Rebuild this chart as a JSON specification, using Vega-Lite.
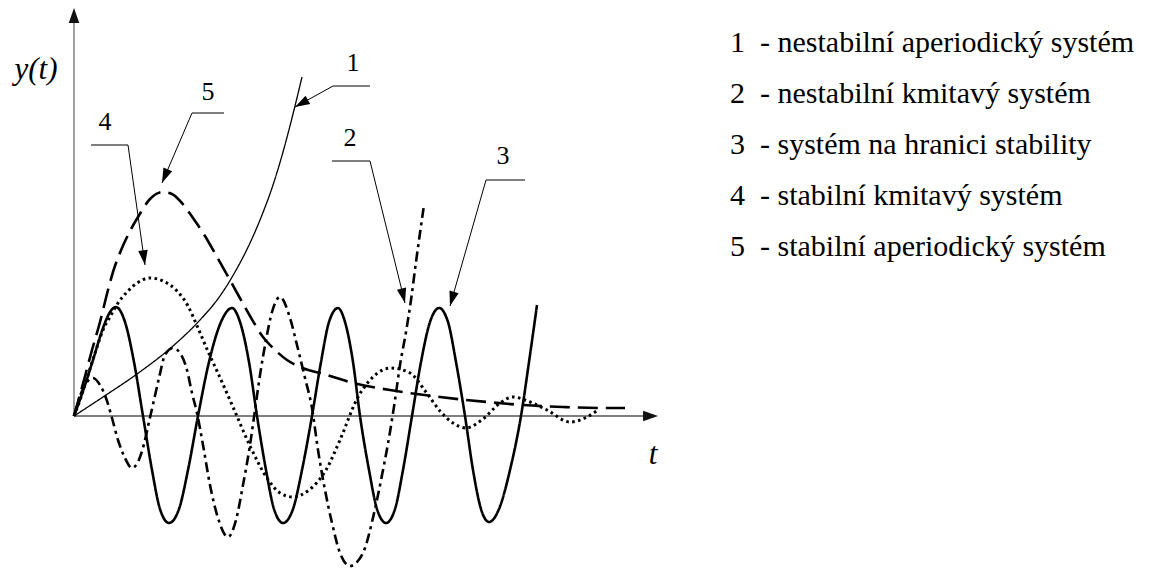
{
  "$schema": "https://vega.github.io/schema/vega-lite/v6.json",
  "width": 1152,
  "height": 572,
  "padding": 0,
  "autosize": {"type": "none"},
  "background": "white",
  "config": {
    "view": {"stroke": null},
    "font": "Liberation Serif",
    "legend": {"labelFont": "Liberation Serif"},
    "text": {"font": "Liberation Serif"}
  },
  "datasets": {
    "systems": [
      {"curve": 1, "name": "1\u00a0\u00a0-\u00a0nestabilní aperiodický systém"},
      {"curve": 2, "name": "2\u00a0\u00a0-\u00a0nestabilní kmitavý systém"},
      {"curve": 3, "name": "3\u00a0\u00a0-\u00a0systém na hranici stability"},
      {"curve": 4, "name": "4\u00a0\u00a0-\u00a0stabilní kmitavý systém"},
      {"curve": 5, "name": "5\u00a0\u00a0-\u00a0stabilní aperiodický systém"}
    ],
    "curves": [
      {"curve": 1, "t": 0, "y": 0}, {"curve": 1, "t": 2.9, "y": 1.9}, {"curve": 1, "t": 6.3, "y": 4.2},
      {"curve": 1, "t": 9.9, "y": 7.0}, {"curve": 1, "t": 12.6, "y": 9.6}, {"curve": 1, "t": 14.6, "y": 12.0},
      {"curve": 1, "t": 16.1, "y": 14.4}, {"curve": 1, "t": 17.6, "y": 17.3}, {"curve": 1, "t": 18.8, "y": 20.1},
      {"curve": 1, "t": 19.9, "y": 23.1}, {"curve": 1, "t": 20.9, "y": 26.4}, {"curve": 1, "t": 21.8, "y": 29.8},
      {"curve": 1, "t": 22.8, "y": 33.9},

      {"curve": 2, "t": 0, "y": 0}, {"curve": 2, "t": 0.6, "y": 2.0}, {"curve": 2, "t": 1.3, "y": 3.4},
      {"curve": 2, "t": 1.9, "y": 3.8}, {"curve": 2, "t": 2.6, "y": 3.1}, {"curve": 2, "t": 3.2, "y": 1.8},
      {"curve": 2, "t": 3.8, "y": -0.2}, {"curve": 2, "t": 4.4, "y": -2.4}, {"curve": 2, "t": 5.1, "y": -4.2},
      {"curve": 2, "t": 5.8, "y": -5.2}, {"curve": 2, "t": 6.4, "y": -4.6}, {"curve": 2, "t": 7.0, "y": -2.8},
      {"curve": 2, "t": 7.5, "y": -0.6}, {"curve": 2, "t": 8.0, "y": 1.6}, {"curve": 2, "t": 8.5, "y": 3.8},
      {"curve": 2, "t": 9.1, "y": 6.1}, {"curve": 2, "t": 9.9, "y": 6.8}, {"curve": 2, "t": 10.6, "y": 6.3},
      {"curve": 2, "t": 11.3, "y": 4.6}, {"curve": 2, "t": 11.8, "y": 2.3}, {"curve": 2, "t": 12.3, "y": 0.3},
      {"curve": 2, "t": 12.9, "y": -2.9}, {"curve": 2, "t": 13.6, "y": -6.9}, {"curve": 2, "t": 14.4, "y": -10.2},
      {"curve": 2, "t": 15.4, "y": -12.1}, {"curve": 2, "t": 16.2, "y": -10.4}, {"curve": 2, "t": 16.9, "y": -6.9},
      {"curve": 2, "t": 17.6, "y": -2.9}, {"curve": 2, "t": 18.1, "y": 0.6}, {"curve": 2, "t": 18.6, "y": 4.1},
      {"curve": 2, "t": 19.2, "y": 7.6}, {"curve": 2, "t": 19.8, "y": 10.4}, {"curve": 2, "t": 20.6, "y": 11.9},
      {"curve": 2, "t": 21.6, "y": 9.8}, {"curve": 2, "t": 22.3, "y": 7.1}, {"curve": 2, "t": 23.1, "y": 3.8},
      {"curve": 2, "t": 23.8, "y": 0.8}, {"curve": 2, "t": 24.4, "y": -3.4}, {"curve": 2, "t": 25.1, "y": -7.4},
      {"curve": 2, "t": 25.8, "y": -10.7}, {"curve": 2, "t": 26.6, "y": -13.7}, {"curve": 2, "t": 27.6, "y": -15.0},
      {"curve": 2, "t": 28.3, "y": -14.6}, {"curve": 2, "t": 29.1, "y": -13.2}, {"curve": 2, "t": 29.8, "y": -10.6},
      {"curve": 2, "t": 30.4, "y": -7.9}, {"curve": 2, "t": 31.0, "y": -4.9}, {"curve": 2, "t": 31.6, "y": -1.6},
      {"curve": 2, "t": 32.1, "y": 1.6}, {"curve": 2, "t": 32.6, "y": 5.1}, {"curve": 2, "t": 33.2, "y": 8.4},
      {"curve": 2, "t": 33.7, "y": 11.6}, {"curve": 2, "t": 34.2, "y": 15.4}, {"curve": 2, "t": 34.6, "y": 18.3},
      {"curve": 2, "t": 35.0, "y": 21.1},

      {"curve": 3, "t": 0, "y": 0}, {"curve": 3, "t": 1.0, "y": 2.8}, {"curve": 3, "t": 1.9, "y": 5.6},
      {"curve": 3, "t": 2.9, "y": 8.8}, {"curve": 3, "t": 3.6, "y": 10.4}, {"curve": 3, "t": 4.2, "y": 10.9},
      {"curve": 3, "t": 5.1, "y": 9.4}, {"curve": 3, "t": 6.0, "y": 5.4}, {"curve": 3, "t": 6.9, "y": 0},
      {"curve": 3, "t": 7.8, "y": -5.4}, {"curve": 3, "t": 8.6, "y": -9.3}, {"curve": 3, "t": 9.5, "y": -10.7},
      {"curve": 3, "t": 10.5, "y": -9.3}, {"curve": 3, "t": 11.4, "y": -5.4}, {"curve": 3, "t": 12.4, "y": 0},
      {"curve": 3, "t": 13.5, "y": 5.4}, {"curve": 3, "t": 14.7, "y": 9.4}, {"curve": 3, "t": 15.8, "y": 10.8},
      {"curve": 3, "t": 16.6, "y": 9.4}, {"curve": 3, "t": 17.5, "y": 5.4}, {"curve": 3, "t": 18.3, "y": 0},
      {"curve": 3, "t": 19.2, "y": -5.4}, {"curve": 3, "t": 20.0, "y": -9.3}, {"curve": 3, "t": 20.9, "y": -10.7},
      {"curve": 3, "t": 21.9, "y": -9.3}, {"curve": 3, "t": 22.8, "y": -5.4}, {"curve": 3, "t": 23.8, "y": 0},
      {"curve": 3, "t": 24.7, "y": 5.4}, {"curve": 3, "t": 25.5, "y": 9.4}, {"curve": 3, "t": 26.4, "y": 10.8},
      {"curve": 3, "t": 27.1, "y": 9.4}, {"curve": 3, "t": 27.9, "y": 5.4}, {"curve": 3, "t": 28.6, "y": 0},
      {"curve": 3, "t": 29.5, "y": -5.4}, {"curve": 3, "t": 30.3, "y": -9.3}, {"curve": 3, "t": 31.2, "y": -10.7},
      {"curve": 3, "t": 32.1, "y": -9.3}, {"curve": 3, "t": 32.9, "y": -5.4}, {"curve": 3, "t": 33.8, "y": 0},
      {"curve": 3, "t": 34.7, "y": 5.4}, {"curve": 3, "t": 35.6, "y": 9.4}, {"curve": 3, "t": 36.5, "y": 10.8},
      {"curve": 3, "t": 37.4, "y": 9.4}, {"curve": 3, "t": 38.2, "y": 5.4}, {"curve": 3, "t": 39.1, "y": 0},
      {"curve": 3, "t": 39.9, "y": -5.4}, {"curve": 3, "t": 40.7, "y": -9.3}, {"curve": 3, "t": 41.5, "y": -10.6},
      {"curve": 3, "t": 42.5, "y": -9.3}, {"curve": 3, "t": 43.6, "y": -5.4}, {"curve": 3, "t": 44.7, "y": 0},
      {"curve": 3, "t": 45.5, "y": 5.4}, {"curve": 3, "t": 46.3, "y": 11.1},

      {"curve": 4, "t": 0, "y": 0}, {"curve": 4, "t": 0.6, "y": 1.6}, {"curve": 4, "t": 1.4, "y": 4.1},
      {"curve": 4, "t": 2.2, "y": 6.6}, {"curve": 4, "t": 2.9, "y": 8.6}, {"curve": 4, "t": 3.6, "y": 9.9},
      {"curve": 4, "t": 4.4, "y": 11.3}, {"curve": 4, "t": 5.3, "y": 12.4}, {"curve": 4, "t": 6.3, "y": 13.3},
      {"curve": 4, "t": 7.6, "y": 13.8}, {"curve": 4, "t": 8.9, "y": 13.5}, {"curve": 4, "t": 10.3, "y": 12.5},
      {"curve": 4, "t": 11.4, "y": 11.0}, {"curve": 4, "t": 12.4, "y": 8.8}, {"curve": 4, "t": 13.6, "y": 6.0},
      {"curve": 4, "t": 14.3, "y": 4.5}, {"curve": 4, "t": 15.9, "y": 0.9}, {"curve": 4, "t": 17.6, "y": -3.0},
      {"curve": 4, "t": 19.3, "y": -6.2}, {"curve": 4, "t": 20.6, "y": -7.7}, {"curve": 4, "t": 21.9, "y": -8.1},
      {"curve": 4, "t": 23.5, "y": -7.4}, {"curve": 4, "t": 25.2, "y": -5.4}, {"curve": 4, "t": 26.6, "y": -2.4},
      {"curve": 4, "t": 28.3, "y": 1.7}, {"curve": 4, "t": 29.9, "y": 3.9}, {"curve": 4, "t": 31.7, "y": 4.8},
      {"curve": 4, "t": 33.6, "y": 4.3}, {"curve": 4, "t": 35.2, "y": 2.4}, {"curve": 4, "t": 36.6, "y": 0.5},
      {"curve": 4, "t": 37.9, "y": -0.7}, {"curve": 4, "t": 39.2, "y": -1.2}, {"curve": 4, "t": 40.9, "y": -0.3},
      {"curve": 4, "t": 42.6, "y": 1.3}, {"curve": 4, "t": 43.9, "y": 1.9}, {"curve": 4, "t": 45.6, "y": 1.4},
      {"curve": 4, "t": 47.3, "y": 0.6}, {"curve": 4, "t": 49.6, "y": -0.6}, {"curve": 4, "t": 51.3, "y": -0.1},
      {"curve": 4, "t": 52.4, "y": 0.6},

      {"curve": 5, "t": 0, "y": 0}, {"curve": 5, "t": 1.0, "y": 3.6}, {"curve": 5, "t": 1.8, "y": 6.6},
      {"curve": 5, "t": 2.6, "y": 9.4}, {"curve": 5, "t": 3.4, "y": 12.6}, {"curve": 5, "t": 3.9, "y": 14.4},
      {"curve": 5, "t": 4.8, "y": 16.8}, {"curve": 5, "t": 5.6, "y": 18.5}, {"curve": 5, "t": 6.4, "y": 19.9},
      {"curve": 5, "t": 7.6, "y": 21.7}, {"curve": 5, "t": 8.9, "y": 22.4}, {"curve": 5, "t": 9.8, "y": 22.2},
      {"curve": 5, "t": 10.7, "y": 21.4}, {"curve": 5, "t": 11.9, "y": 19.8}, {"curve": 5, "t": 13.1, "y": 18.0},
      {"curve": 5, "t": 14.3, "y": 15.9}, {"curve": 5, "t": 15.6, "y": 13.6}, {"curve": 5, "t": 16.7, "y": 11.6},
      {"curve": 5, "t": 17.6, "y": 10.0}, {"curve": 5, "t": 18.9, "y": 7.9}, {"curve": 5, "t": 19.9, "y": 6.8},
      {"curve": 5, "t": 21.3, "y": 5.6}, {"curve": 5, "t": 22.6, "y": 4.9}, {"curve": 5, "t": 25.3, "y": 4.1},
      {"curve": 5, "t": 27.9, "y": 3.3}, {"curve": 5, "t": 31.6, "y": 2.6}, {"curve": 5, "t": 36.6, "y": 1.9},
      {"curve": 5, "t": 41.3, "y": 1.4}, {"curve": 5, "t": 44.9, "y": 1.1}, {"curve": 5, "t": 48.9, "y": 0.9},
      {"curve": 5, "t": 52.9, "y": 0.8}, {"curve": 5, "t": 55.1, "y": 0.8}
    ],
    "callouts": [
      {"label": "1", "labelT": 27.9, "labelY": 35.3, "barFrom": 25.9, "barTo": 29.6, "barY": 33.0, "elbowT": 25.9, "tipT": 22.1, "tipY": 30.9},
      {"label": "2", "labelT": 27.6, "labelY": 27.8, "barFrom": 25.8, "barTo": 29.6, "barY": 25.5, "elbowT": 29.6, "tipT": 33.1, "tipY": 11.3},
      {"label": "3", "labelT": 42.9, "labelY": 26.0, "barFrom": 41.2, "barTo": 45.1, "barY": 23.6, "elbowT": 41.2, "tipT": 37.6, "tipY": 11.0},
      {"label": "4", "labelT": 3.1, "labelY": 29.4, "barFrom": 1.7, "barTo": 5.4, "barY": 27.1, "elbowT": 5.4, "tipT": 7.1, "tipY": 15.1},
      {"label": "5", "labelT": 13.4, "labelY": 32.4, "barFrom": 11.8, "barTo": 15.0, "barY": 30.3, "elbowT": 11.8, "tipT": 8.8, "tipY": 23.3}
    ]
  },
  "layer": [
    {
      "description": "y axis line",
      "data": {"values": [{}]},
      "mark": {"type": "rule", "color": "#8a8a8a", "strokeWidth": 1.6},
      "encoding": {
        "x": {"datum": 0, "type": "quantitative", "scale": {"domain": [-7.4, 107.8], "nice": false, "zero": false}, "axis": null},
        "y": {"datum": 0, "type": "quantitative", "scale": {"domain": [-15.6, 41.6], "nice": false, "zero": false}, "axis": null},
        "y2": {"datum": 39.6}
      }
    },
    {
      "description": "t axis line",
      "data": {"values": [{}]},
      "mark": {"type": "rule", "color": "#555555", "strokeWidth": 1.6},
      "encoding": {
        "x": {"datum": 0, "type": "quantitative", "scale": {"domain": [-7.4, 107.8], "nice": false, "zero": false}, "axis": null},
        "x2": {"datum": 57.2},
        "y": {"datum": 0, "type": "quantitative", "scale": {"domain": [-15.6, 41.6], "nice": false, "zero": false}, "axis": null}
      }
    },
    {
      "description": "axis arrowheads",
      "data": {"values": [{"t": 0, "y": 40.8, "angle": 0}, {"t": 58.4, "y": 0, "angle": 90}]},
      "mark": {"type": "point", "shape": "M0,0L-0.6,1.7L0.6,1.7Z", "filled": true, "size": 310, "color": "#111111", "opacity": 1, "strokeWidth": 0},
      "encoding": {
        "x": {"field": "t", "type": "quantitative", "scale": {"domain": [-7.4, 107.8], "nice": false, "zero": false}, "axis": null},
        "y": {"field": "y", "type": "quantitative", "scale": {"domain": [-15.6, 41.6], "nice": false, "zero": false}, "axis": null},
        "angle": {"field": "angle", "type": "quantitative", "scale": null}
      }
    },
    {
      "description": "step responses of the five systems",
      "data": {"name": "curves"},
      "transform": [
        {"lookup": "curve", "from": {"data": {"name": "systems"}, "key": "curve", "fields": ["name"]}}
      ],
      "mark": {"type": "line", "interpolate": "monotone", "color": "#000000", "strokeCap": "butt", "strokeJoin": "round"},
      "encoding": {
        "x": {"field": "t", "type": "quantitative", "scale": {"domain": [-7.4, 107.8], "nice": false, "zero": false}, "axis": null},
        "y": {"field": "y", "type": "quantitative", "scale": {"domain": [-15.6, 41.6], "nice": false, "zero": false}, "axis": null},
        "strokeDash": {
          "field": "name",
          "type": "nominal",
          "scale": {
            "domain": [
              "1\u00a0\u00a0-\u00a0nestabilní aperiodický systém",
              "2\u00a0\u00a0-\u00a0nestabilní kmitavý systém",
              "3\u00a0\u00a0-\u00a0systém na hranici stability",
              "4\u00a0\u00a0-\u00a0stabilní kmitavý systém",
              "5\u00a0\u00a0-\u00a0stabilní aperiodický systém"
            ],
            "range": [[1, 0], [10, 4.5, 3, 4.5], [1, 0], [2.6, 3.4], [20, 8]]
          },
          "legend": {
            "orient": "none",
            "legendX": 700,
            "legendY": 28,
            "title": null,
            "padding": 0,
            "offset": 0,
            "symbolOpacity": 0,
            "symbolSize": 0,
            "symbolStrokeWidth": 0,
            "labelOffset": 0,
            "labelFont": "Liberation Serif",
            "labelFontSize": 30,
            "labelColor": "#000000",
            "labelLimit": 600,
            "rowPadding": 21
          }
        },
        "strokeWidth": {
          "condition": [
            {"test": "datum.curve === 1", "value": 1.3},
            {"test": "datum.curve === 4", "value": 3}
          ],
          "value": 2.6
        }
      }
    },
    {
      "description": "callout underlines",
      "data": {"name": "callouts"},
      "mark": {"type": "rule", "color": "#000000", "strokeWidth": 1},
      "encoding": {
        "x": {"field": "barFrom", "type": "quantitative", "scale": {"domain": [-7.4, 107.8], "nice": false, "zero": false}, "axis": null},
        "x2": {"field": "barTo"},
        "y": {"field": "barY", "type": "quantitative", "scale": {"domain": [-15.6, 41.6], "nice": false, "zero": false}, "axis": null}
      }
    },
    {
      "description": "callout leaders",
      "data": {"name": "callouts"},
      "mark": {"type": "rule", "color": "#000000", "strokeWidth": 1},
      "encoding": {
        "x": {"field": "elbowT", "type": "quantitative", "scale": {"domain": [-7.4, 107.8], "nice": false, "zero": false}, "axis": null},
        "x2": {"field": "tipT"},
        "y": {"field": "barY", "type": "quantitative", "scale": {"domain": [-15.6, 41.6], "nice": false, "zero": false}, "axis": null},
        "y2": {"field": "tipY"}
      }
    },
    {
      "description": "callout arrowheads, turned along each leader",
      "data": {"name": "callouts"},
      "transform": [
        {"calculate": "atan2(datum.tipT - datum.elbowT, datum.tipY - datum.barY) * 180 / PI", "as": "angle"}
      ],
      "mark": {"type": "point", "shape": "M0,0L-0.55,1.7L0.55,1.7Z", "filled": true, "size": 300, "color": "#000000", "opacity": 1, "strokeWidth": 0},
      "encoding": {
        "x": {"field": "tipT", "type": "quantitative", "scale": {"domain": [-7.4, 107.8], "nice": false, "zero": false}, "axis": null},
        "y": {"field": "tipY", "type": "quantitative", "scale": {"domain": [-15.6, 41.6], "nice": false, "zero": false}, "axis": null},
        "angle": {"field": "angle", "type": "quantitative", "scale": null}
      }
    },
    {
      "description": "callout numbers",
      "data": {"name": "callouts"},
      "mark": {"type": "text", "font": "Liberation Serif", "fontSize": 26, "color": "#000000", "align": "center", "baseline": "middle"},
      "encoding": {
        "x": {"field": "labelT", "type": "quantitative", "scale": {"domain": [-7.4, 107.8], "nice": false, "zero": false}, "axis": null},
        "y": {"field": "labelY", "type": "quantitative", "scale": {"domain": [-15.6, 41.6], "nice": false, "zero": false}, "axis": null},
        "text": {"field": "label"}
      }
    },
    {
      "description": "axis titles",
      "data": {"values": [{"label": "y(t)", "t": -3.8, "y": 34.6}, {"label": "t", "t": 57.9, "y": -3.9}]},
      "mark": {"type": "text", "font": "Liberation Serif", "fontStyle": "italic", "fontSize": 31, "color": "#000000", "align": "center", "baseline": "middle"},
      "encoding": {
        "x": {"field": "t", "type": "quantitative", "scale": {"domain": [-7.4, 107.8], "nice": false, "zero": false}, "axis": null},
        "y": {"field": "y", "type": "quantitative", "scale": {"domain": [-15.6, 41.6], "nice": false, "zero": false}, "axis": null},
        "text": {"field": "label"}
      }
    }
  ]
}
